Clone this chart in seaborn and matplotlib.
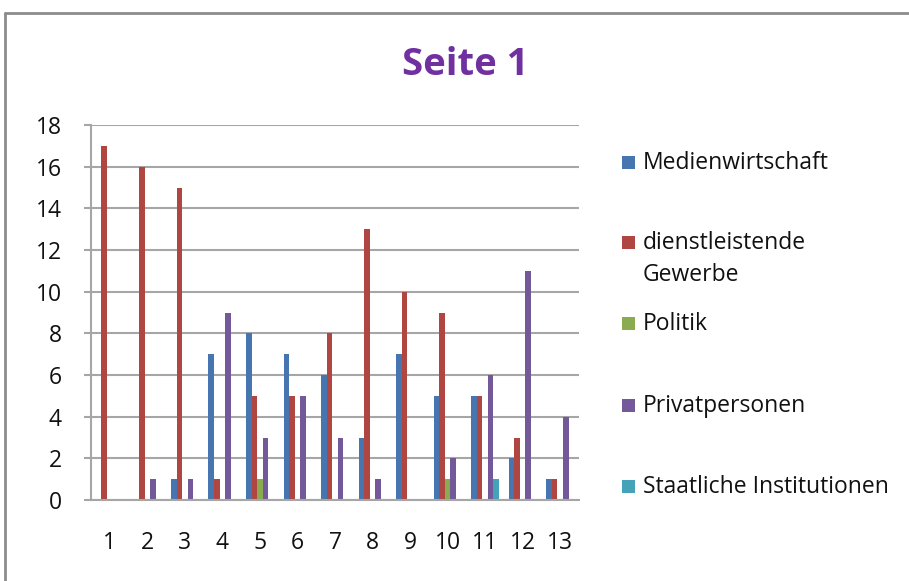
import matplotlib
matplotlib.use("Agg")
import matplotlib.pyplot as plt
from matplotlib.patches import Rectangle
from matplotlib.lines import Line2D
import seaborn as sns
import pandas as pd

# Counts per page section (1..13) for each category
groups = [str(i) for i in range(1, 14)]
medienwirtschaft = [0, 0, 1, 7, 8, 7, 6, 3, 7, 5, 5, 2, 1]
dienstleistende_gewerbe = [17, 16, 15, 1, 5, 5, 8, 13, 10, 9, 5, 3, 1]
politik = [0, 0, 0, 0, 1, 0, 0, 0, 0, 1, 0, 0, 0]
privatpersonen = [0, 1, 1, 9, 3, 5, 3, 1, 0, 2, 6, 11, 4]
staatliche_institutionen = [0, 0, 0, 0, 0, 0, 0, 0, 0, 0, 1, 0, 0]

series_names = ["Medienwirtschaft", "dienstleistende Gewerbe", "Politik",
                "Privatpersonen", "Staatliche Institutionen"]
legend_labels = ["Medienwirtschaft", "dienstleistende\nGewerbe", "Politik",
                 "Privatpersonen", "Staatliche Institutionen"]
series_values = [medienwirtschaft, dienstleistende_gewerbe, politik,
                 privatpersonen, staatliche_institutionen]
colors = ["#4775AF", "#AF4642", "#8AAB4F", "#73599A", "#44A2B9"]
y_ticks = list(range(0, 19, 2))
title = "Seite 1"

rows = []
for name, vals in zip(series_names, series_values):
    for g, v in zip(groups, vals):
        rows.append({"Gruppe": g, "Kategorie": name, "Anzahl": v})
df = pd.DataFrame(rows)

sns.set_theme(style="white")
plt.rcParams["font.family"] = ["Open Sans", "DejaVu Sans"]

W, H = 909, 581
fig = plt.figure(figsize=(W / 100, H / 100), dpi=100)
fig.patch.set_facecolor("white")

ax = fig.add_axes([91 / W, 1 - 500 / H, (579 - 91) / W, (500 - 125) / H])
sns.barplot(data=df, x="Gruppe", y="Anzahl", hue="Kategorie",
            hue_order=series_names, order=groups, palette=colors,
            width=0.74, saturation=1, legend=False, ax=ax,
            edgecolor="none", linewidth=0)

grid_color = "#A6A6A6"
text_color = "#111111"
ax.set_ylim(0, 18)
ax.set_xlim(-0.5, len(groups) - 0.5)
ax.set_yticks(y_ticks)
ax.set_yticklabels([str(t) for t in y_ticks])
ax.yaxis.grid(True, color=grid_color, linewidth=1.5)
ax.set_axisbelow(True)
ax.set_xlabel("")
ax.set_ylabel("")
for side in ["top", "right"]:
    ax.spines[side].set_visible(False)
for side in ["left", "bottom"]:
    ax.spines[side].set_color(grid_color)
    ax.spines[side].set_linewidth(1.5)
ax.tick_params(axis="y", length=5, width=1.5, color=grid_color,
               labelsize=16.5, labelcolor=text_color, pad=16, left=True)
ax.tick_params(axis="x", length=0, labelsize=16.5, labelcolor=text_color, pad=22)

fig.text(465 / W, 1 - 65 / H, title, ha="center", va="center",
         fontsize=27.5, fontweight="bold", color="#7030A0")

# Legend
legend_y = [163, 243, 324, 406, 487]
for lbl, col, yc in zip(legend_labels, colors, legend_y):
    fig.patches.append(Rectangle((622 / W, 1 - (yc + 6) / H), 13 / W, 13 / H,
                                 transform=fig.transFigure, facecolor=col,
                                 edgecolor="none"))
    lines = lbl.split("\n")
    for k, line in enumerate(lines):
        fig.text(643 / W, 1 - (yc + 32 * k) / H, line, ha="left", va="center",
                 fontsize=16.5, color=text_color)

# Chart frame
frame_color = "#8C8C8C"
fig.lines.append(Line2D([5 / W, 1], [1 - 13 / H, 1 - 13 / H],
                        transform=fig.transFigure, color=frame_color, linewidth=2))
fig.lines.append(Line2D([5 / W, 5 / W], [1 - 13 / H, 0],
                        transform=fig.transFigure, color=frame_color, linewidth=2))

fig.savefig("out.png", dpi=100, facecolor="white")
